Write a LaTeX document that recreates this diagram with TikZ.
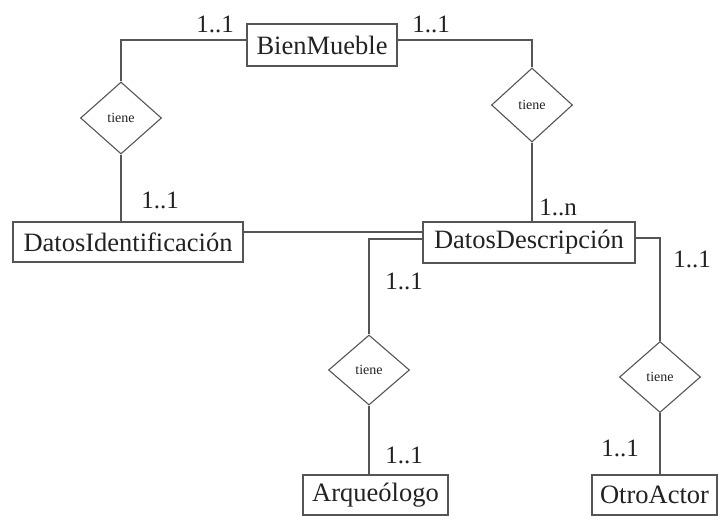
\documentclass[tikz,border=0pt]{standalone}
\usepackage{fontspec}
\setmainfont{Liberation Serif}
\usetikzlibrary{shapes.geometric}
\definecolor{ln}{HTML}{555555}
\definecolor{tx}{HTML}{222222}
\tikzset{
  entity/.style={draw=ln, line width=1.2pt, rectangle, inner sep=0pt, minimum height=40pt, text=tx, font=\fontsize{26.5}{28}\selectfont},
  rel/.style={draw=ln, line width=1.1pt, diamond, inner sep=0pt, minimum width=81pt, minimum height=72pt, text=tx, font=\fontsize{14}{15}\selectfont},
  card/.style={inner sep=0pt, text=tx, font=\fontsize{25}{27}\selectfont},
  conn/.style={draw=ln, line width=1.2pt}
}
\begin{document}
\begin{tikzpicture}[x=1pt,y=-1pt]
\useasboundingbox (0,0) rectangle (725,522);
% entities
\node[entity, minimum width=150pt, minimum height=42pt] (bm) at (322,45) {BienMueble};
\node[entity, minimum width=230pt] (di) at (128,242) {DatosIdentificación};
\node[entity, minimum width=212pt, minimum height=41pt] (dd) at (529,242.5) {DatosDescripción};
\node[entity, minimum width=145pt] (ar) at (375.5,495) {Arqueólogo};
\node[entity, minimum width=125pt] (oa) at (654.5,495) {OtroActor};
% relationships
\node[rel] (r1) at (121,118) {tiene};
\node[rel, minimum height=74pt] (r2) at (532,105) {tiene};
\node[rel, minimum height=70pt] (r3) at (369,370) {tiene};
\node[rel, minimum height=71pt] (r4) at (660,377) {tiene};
% connectors
\draw[conn] ([yshift=5pt]bm.west) -| (r1.north);
\draw[conn] (r1.south) -- (r1.south |- di.north);
\draw[conn] ([yshift=5pt]bm.east) -| (r2.north);
\draw[conn] (r2.south) -- (r2.south |- dd.north);
\draw[conn] ([yshift=10pt]di.east) -- ([yshift=10pt]di.east -| dd.west);
\draw[conn] ([yshift=3.5pt]dd.west) -| (r3.north);
\draw[conn] (r3.south) -- (r3.south |- ar.north);
\draw[conn] ([yshift=4.5pt]dd.east) -| (r4.north);
\draw[conn] (r4.south) -- (r4.south |- oa.north);
% cardinalities
\node[card] (c1) at (215,24) {1..1};
\node[card] (c2) at (160,200) {1..1};
\node[card] (c3) at (431,24) {1..1};
\node[card] (c4) at (558,207) {1..n};
\node[card] (c5) at (404,281) {1..1};
\node[card] (c6) at (404,455) {1..1};
\node[card] (c7) at (692,259) {1..1};
\node[card] (c8) at (620,448) {1..1};
\end{tikzpicture}
\end{document}
